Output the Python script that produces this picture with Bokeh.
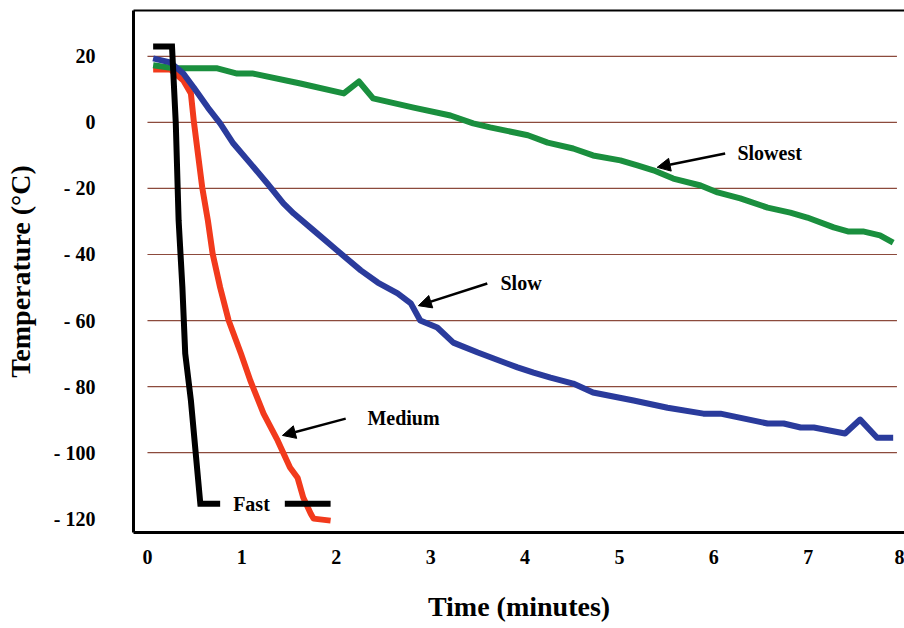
from bokeh.plotting import figure
from bokeh.models import LinearAxis, FixedTicker, Range1d, Label, Arrow, NormalHead
from bokeh.embed import file_html
from bokeh.resources import INLINE

# ---- data (time in minutes, temperature in °C) ----
fast_t = [0.06, 0.26, 0.30, 0.33, 0.37, 0.40, 0.46, 0.56, 1.94]
fast_T = [23.0, 23.0, -0.3, -29.7, -50.0, -70.0, -84.2, -115.5, -115.5]

medium_t = [0.06, 0.24, 0.38, 0.46, 0.49, 0.53, 0.58, 0.64, 0.69, 0.77, 0.86, 0.99,
            1.09, 1.23, 1.38, 1.51, 1.59, 1.65, 1.73, 1.76, 1.94]
medium_T = [16.0, 16.1, 12.7, 8.8, 0.6, -8.5, -19.7, -29.7, -39.7, -50.0, -60.0, -70.0,
            -78.2, -88.2, -96.4, -104.5, -107.6, -113.6, -118.5, -120.0, -120.6]

slow_t = [0.06, 0.24, 0.38, 0.49, 0.64, 0.77, 0.91, 1.09, 1.27, 1.44, 1.55, 1.76, 2.01,
          2.26, 2.44, 2.65, 2.79, 2.89, 3.07, 3.24, 3.50, 3.92, 4.09, 4.27, 4.51, 4.72,
          5.15, 5.51, 5.89, 6.07, 6.57, 6.74, 6.92, 7.06, 7.39, 7.55, 7.73, 7.90]
slow_T = [19.4, 18.2, 14.8, 10.6, 4.5, -0.3, -6.4, -12.4, -18.5, -24.5, -27.6, -32.7, -38.8,
          -44.8, -48.5, -51.8, -54.8, -60.0, -62.1, -66.7, -69.7, -74.2, -75.8, -77.3, -79.1, -81.8,
          -84.2, -86.4, -88.2, -88.2, -91.2, -91.2, -92.4, -92.4, -94.2, -90.0, -95.5, -95.5]

slowest_t = [0.06, 0.28, 0.74, 0.95, 1.12, 1.62, 2.08, 2.24, 2.39, 2.82, 3.21, 3.45, 3.63,
             4.03, 4.24, 4.51, 4.72, 5.01, 5.19, 5.36, 5.57, 5.86, 6.04, 6.28, 6.57, 6.81,
             6.99, 7.27, 7.42, 7.58, 7.76, 7.90]
slowest_T = [17.3, 16.4, 16.4, 14.8, 14.8, 11.8, 8.8, 12.4, 7.3, 4.5, 2.1, -0.3, -1.5,
             -3.9, -6.1, -7.9, -10.0, -11.5, -13.0, -14.5, -17.0, -19.1, -21.2, -23.0, -25.8, -27.3,
             -28.8, -31.8, -33.0, -33.0, -34.2, -36.4]

x_ticks = [0, 1, 2, 3, 4, 5, 6, 7, 8]
y_ticks = [20, 0, -20, -40, -60, -80, -100, -120]
y_tick_labels = {20: "20", 0: "0", -20: "- 20", -40: "- 40", -60: "- 60",
                 -80: "- 80", -100: "- 100", -120: "- 120"}
grid_vals = [20, 0, -20, -40, -60, -80, -100]

# annotations: (text, text x, text y, arrow start x, arrow start y, arrow end x, arrow end y)
notes = [
    ("Slowest", 6.25, -9.4, 6.12, -9.4, 5.40, -13.6),
    ("Slow", 3.74, -48.5, 3.60, -48.8, 2.87, -55.5),
    ("Medium", 2.33, -89.4, 2.10, -89.7, 1.43, -94.8),
]
fast_label = ("Fast", 0.77, -115.5)

FONT = "Liberation Serif"

p = figure(width=904, height=628, output_backend="svg", toolbar_location=None,
           x_range=Range1d(-0.148, 8.02), y_range=Range1d(-124.2, 33.9),
           min_border_left=133, min_border_right=0, min_border_top=10, min_border_bottom=96,
           x_axis_label="Time (minutes)", y_axis_label="Temperature (°C)")
p.outline_line_color = None
p.grid.visible = False
p.background_fill_color = "white"
p.border_fill_color = "white"

p.xaxis[0].ticker = FixedTicker(ticks=x_ticks)
p.yaxis[0].ticker = FixedTicker(ticks=y_ticks)
p.yaxis[0].major_label_overrides = y_tick_labels

for ax in [p.xaxis[0], p.yaxis[0]]:
    ax.axis_line_width = 3
    ax.axis_line_color = "black"
    ax.major_tick_line_color = None
    ax.minor_tick_line_color = None
    ax.major_tick_out = 0
    ax.major_tick_in = 0
    ax.major_label_text_font = FONT
    ax.major_label_text_font_style = "bold"
    ax.major_label_text_font_size = "20px"
    ax.major_label_text_color = "black"
    ax.axis_label_text_font = FONT
    ax.axis_label_text_font_style = "bold"
    ax.axis_label_text_font_size = "28px"
    ax.axis_label_text_color = "black"

p.xaxis[0].major_label_standoff = 17
p.xaxis[0].axis_label_standoff = 24
p.yaxis[0].major_label_standoff = 38
p.yaxis[0].axis_label_standoff = 15

top = LinearAxis(ticker=FixedTicker(ticks=[]), axis_line_width=2, axis_line_color="black",
                 major_tick_line_color=None, minor_tick_line_color=None,
                 major_tick_out=0, major_tick_in=0, major_label_standoff=0,
                 major_label_text_font_size="0px")
p.add_layout(top, "above")

# horizontal grid lines starting at t = 0
p.segment(x0=[0] * len(grid_vals), y0=grid_vals, x1=[7.94] * len(grid_vals), y1=grid_vals,
          line_color="#8c4a3c", line_width=1.2)

p.line(medium_t, medium_T, line_color="#f23a1c", line_width=6, line_join="round")
p.line(slowest_t, slowest_T, line_color="#1a8f3e", line_width=6, line_join="round")
p.line(slow_t, slow_T, line_color="#2a3b9c", line_width=6, line_join="round")
p.line(fast_t, fast_T, line_color="black", line_width=6, line_join="miter")

for text, tx, ty, x0, y0, x1, y1 in notes:
    p.add_layout(Label(x=tx, y=ty, text=text, text_font=FONT, text_font_style="bold",
                       text_font_size="20px", text_baseline="middle", text_align="left",
                       text_color="black"))
    p.add_layout(Arrow(end=NormalHead(size=13, fill_color="black", line_color="black"),
                       x_start=x0, y_start=y0, x_end=x1, y_end=y1,
                       line_width=2.5, line_color="black"))

p.add_layout(Label(x=fast_label[1], y=fast_label[2], text=fast_label[0], text_font=FONT,
                   text_font_style="bold", text_font_size="20px", text_baseline="middle",
                   text_align="left", text_color="black", background_fill_color="white",
                   padding=dict(left=13, right=15, top=3, bottom=3)))

open("out.html", "w").write(file_html(p, INLINE))
